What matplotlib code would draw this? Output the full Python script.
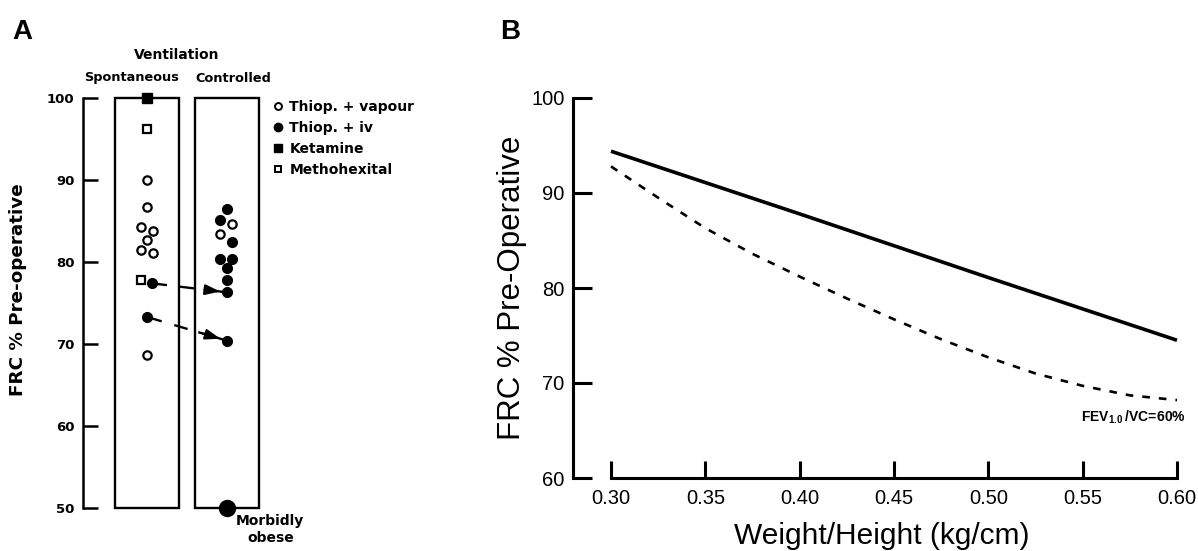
import matplotlib
matplotlib.use("Agg")
import matplotlib.pyplot as plt
from matplotlib.lines import Line2D
from matplotlib.patches import Rectangle
import numpy as np

plt.rcParams['font.family'] = ['Liberation Sans', 'DejaVu Sans']
plt.rcParams['mathtext.fontset'] = 'custom'
plt.rcParams['mathtext.rm'] = 'Liberation Sans'
plt.rcParams['mathtext.bf'] = 'Liberation Sans:bold'
plt.rcParams['lines.scale_dashes'] = False

BOLD_A = ['DejaVu Sans']

# ---------------- Panel A data ----------------
groups = ["Spontaneous", "Controlled"]
group_pos = [1, 2]
y_ticks_A = [50, 60, 70, 80, 90, 100]

spont_vapour = [90.0, 86.7, 84.3, 83.8, 82.7, 81.5, 81.1, 68.7]
spont_vapour_dx = [0.0, 0.0, -0.07, 0.07, 0.0, -0.07, 0.07, 0.0]
spont_iv = [77.4, 73.3]
spont_iv_dx = [0.06, 0.0]
spont_ketamine = [100.0]
spont_ketamine_dx = [0.0]
spont_metho = [96.2, 77.8]
spont_metho_dx = [0.0, -0.07]

ctrl_vapour = [84.6, 83.4]
ctrl_vapour_dx = [0.06, -0.09]
ctrl_iv = [86.5, 85.1, 82.4, 80.4, 80.4, 79.3, 77.8, 76.3, 70.4]
ctrl_iv_dx = [0.0, -0.09, 0.06, -0.09, 0.06, 0.0, 0.0, 0.0, 0.0]
morbid_obese = [50.0]
morbid_obese_dx = [0.0]

# paired patients (index into spont_iv -> index into ctrl_iv)
pairs = [(0, 7), (1, 8)]

legend_labels = ["Thiop. + vapour", "Thiop. + iv", "Ketamine", "Methohexital"]

# ---------------- Panel B data ----------------
wh_solid = [0.30, 0.40, 0.50, 0.60]
frc_solid = [94.4, 87.8, 81.1, 74.5]
wh_dashed = [0.30, 0.325, 0.35, 0.375, 0.40, 0.425, 0.45, 0.475, 0.50, 0.525, 0.55, 0.575, 0.60]
frc_dashed = [92.8, 89.5, 86.3, 83.6, 81.2, 78.9, 76.7, 74.6, 72.7, 71.0, 69.7, 68.7, 68.2]
x_ticks_B = [0.30, 0.35, 0.40, 0.45, 0.50, 0.55, 0.60]
y_ticks_B = [60, 70, 80, 90, 100]

W, H = 1198, 551
fig = plt.figure(figsize=(W / 100, H / 100), dpi=100)


def fx(px):
    return px / W


def fy(py):
    return 1 - py / H


# ================= Panel A =================
axA = fig.add_axes([fx(83), fy(508), (430 - 83) / W, (508 - 98) / H])
axA.set_xlim(0.2, 0.2 + (430 - 83) / 80)
axA.set_ylim(50, 100)
for s in ['top', 'right', 'bottom']:
    axA.spines[s].set_visible(False)
axA.spines['left'].set_linewidth(1.8)
axA.set_xticks([])
axA.set_yticks(y_ticks_A)
axA.set_yticklabels([str(t) for t in y_ticks_A], fontsize=9.5, fontweight='bold',
                    family=BOLD_A)
axA.tick_params(axis='y', direction='in', length=11, width=1.8, pad=6)

# boxes
for p in group_pos:
    axA.add_patch(Rectangle((p - 0.4, 50), 0.8, 50, fill=False, lw=1.7,
                            ec='black', zorder=1, clip_on=False))

common = dict(linestyle='none', clip_on=False, zorder=5)


def pts(pos, dx):
    return [pos + d for d in dx]


# paired arrows (drawn below markers)
for i_sp, i_ct in pairs:
    x0, y0 = group_pos[0] + spont_iv_dx[i_sp], spont_iv[i_sp]
    x1, y1 = group_pos[1] + ctrl_iv_dx[i_ct], ctrl_iv[i_ct]
    axA.plot([x0, x1], [y0, y1], color='black', lw=1.7,
             linestyle=(0, (11, 9.5, 10, 8, 80)), zorder=3, clip_on=False)
    f = 0.70
    axA.annotate('', xy=(x1, y1), xytext=(x0 + f * (x1 - x0), y0 + f * (y1 - y0)),
                 arrowprops=dict(arrowstyle='-|>,head_length=0.8,head_width=0.28',
                                 color='black', lw=1.6, shrinkA=0, shrinkB=5,
                                 mutation_scale=11), zorder=3)

axA.plot(pts(group_pos[0], spont_vapour_dx), spont_vapour, marker='o', ms=6,
         mfc='white', mec='black', mew=1.6, **common)
axA.plot(pts(group_pos[1], ctrl_vapour_dx), ctrl_vapour, marker='o', ms=6,
         mfc='white', mec='black', mew=1.6, **common)
axA.plot(pts(group_pos[0], spont_iv_dx), spont_iv, marker='o', ms=7,
         mfc='black', mec='black', **common)
axA.plot(pts(group_pos[1], ctrl_iv_dx), ctrl_iv, marker='o', ms=7,
         mfc='black', mec='black', **common)
axA.plot(pts(group_pos[0], spont_ketamine_dx), spont_ketamine, marker='s', ms=6.5,
         mfc='black', mec='black', **common)
axA.plot(pts(group_pos[0], spont_metho_dx), spont_metho, marker='s', ms=6,
         mfc='white', mec='black', mew=1.6, **common)
axA.plot(pts(group_pos[1], morbid_obese_dx), morbid_obese, marker='o', ms=11.5,
         mfc='black', mec='black', **common)

# legend
handles = [
    Line2D([], [], marker='o', ms=5, mfc='white', mec='black', mew=1.4, ls='none'),
    Line2D([], [], marker='o', ms=6, mfc='black', mec='black', ls='none'),
    Line2D([], [], marker='s', ms=5.5, mfc='black', mec='black', ls='none'),
    Line2D([], [], marker='s', ms=5, mfc='white', mec='black', mew=1.4, ls='none'),
]
leg = axA.legend(handles, legend_labels, loc='upper left',
                 bbox_to_anchor=(fx(272), fy(100)), bbox_transform=fig.transFigure,
                 frameon=False, handlelength=0.8, handletextpad=0.45,
                 borderpad=0, borderaxespad=0, labelspacing=0.5,
                 prop=dict(size=10, weight='bold', family=BOLD_A))

# headers
tA = dict(fontweight='bold', family=BOLD_A, ha='center', va='center')
fig.text(fx(177), fy(55), "Ventilation", fontsize=10, **tA)
fig.text(fx(132), fy(78), groups[0], fontsize=9.3, **tA)
fig.text(fx(233), fy(78), groups[1], fontsize=9.3, **tA)
fig.text(fx(270), fy(521), "Morbidly", fontsize=10, **tA)
fig.text(fx(271), fy(538), "obese", fontsize=10, **tA)
fig.text(fx(18), fy(290), "FRC % Pre-operative", rotation=90, fontsize=13.2, **tA)
fig.text(fx(12), fy(32), "A", ha='left', va='center', fontsize=20, fontweight='bold')

# ================= Panel B =================
axB = fig.add_axes([fx(573), fy(478), (1190 - 573) / W, (478 - 98) / H])
axB.set_xlim(0.30 - 38 / 1887, 0.60 + 13 / 1887)
axB.set_ylim(60, 100)
axB.spines['top'].set_visible(False)
axB.spines['right'].set_visible(False)
axB.spines['left'].set_linewidth(2.2)
axB.spines['bottom'].set_linewidth(2.2)
axB.spines['bottom'].set_bounds(0.30, 0.60)
axB.spines['left'].set_bounds(60, 100)
axB.set_xticks(x_ticks_B)
axB.set_xticklabels([f"{t:.2f}" for t in x_ticks_B], fontsize=14.5)
axB.set_yticks(y_ticks_B)
axB.set_yticklabels([str(t) for t in y_ticks_B], fontsize=14.5)
axB.tick_params(axis='y', direction='in', length=14, width=2.2, pad=6)
axB.tick_params(axis='x', direction='in', length=12, width=2.2, pad=8)

axB.plot(wh_solid, frc_solid, color='black', lw=2.6, solid_capstyle='butt')
axB.plot(wh_dashed, frc_dashed, color='black', lw=1.9, linestyle=(0, (5.5, 6.5)))

axB.text(0.6045, 66.4, r'$\mathbf{FEV_{1.0}\,/VC\!=\!60\%}$', ha='right',
         va='center', fontsize=10)

axB.set_xlabel("Weight/Height (kg/cm)", fontsize=21.5, labelpad=10)
fig.text(fx(512), fy(288), "FRC % Pre-Operative", rotation=90, ha='center',
         va='center', fontsize=22.5)
fig.text(fx(500), fy(32), "B", ha='left', va='center', fontsize=20, fontweight='bold')

fig.savefig("out.png", dpi=100)
